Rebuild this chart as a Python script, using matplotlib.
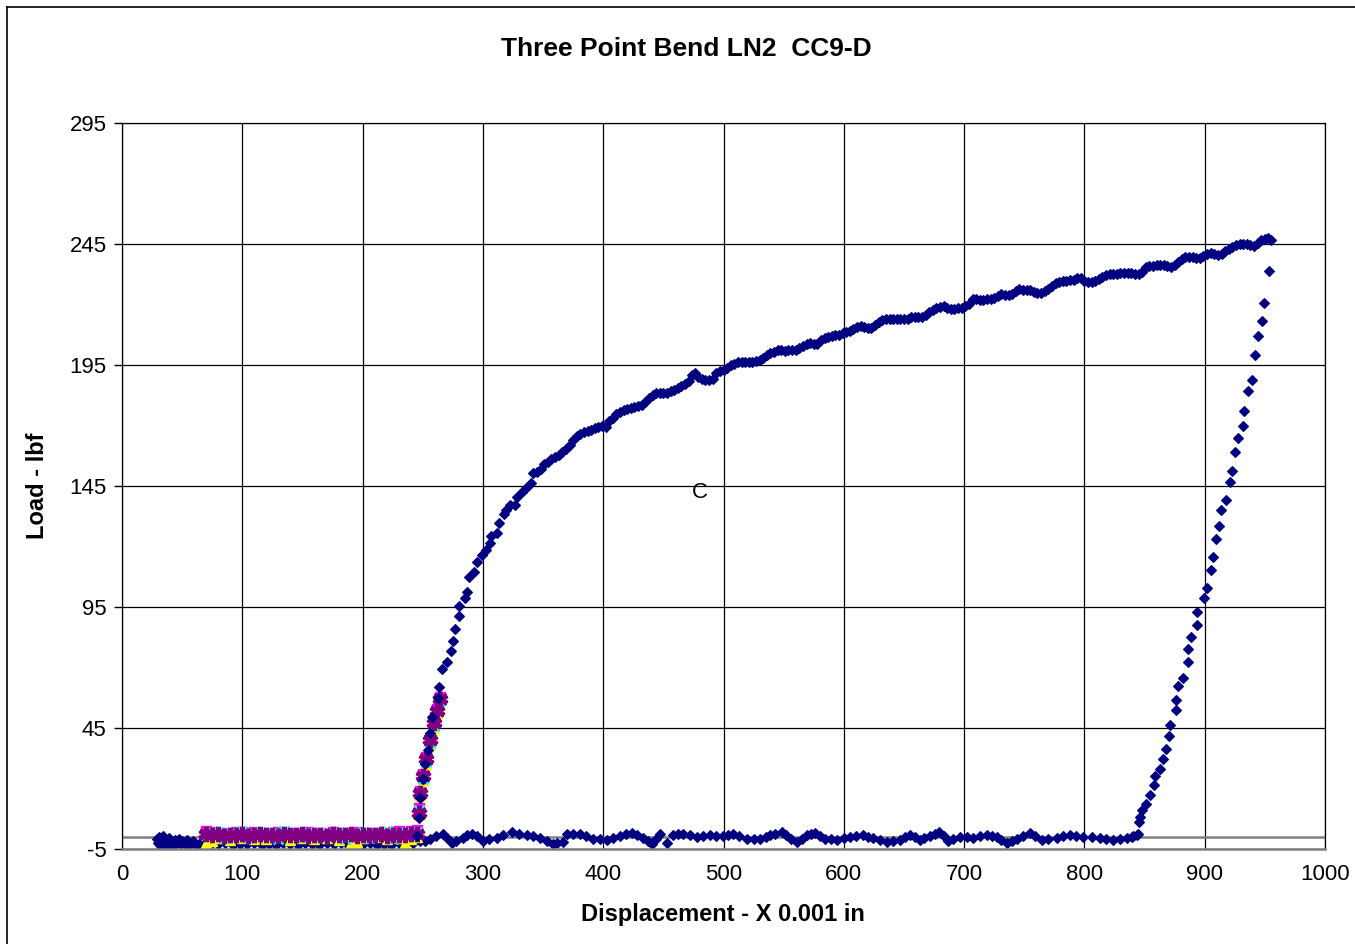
import matplotlib
matplotlib.use("Agg")
import matplotlib.pyplot as plt
from matplotlib.lines import Line2D

plt.rcParams['font.family'] = ['Liberation Sans', 'DejaVu Sans']
plt.rcParams['axes.unicode_minus'] = False

# ---- data ----
# main specimen curve (series 1): loading branch
load_x = [245, 246.5, 248, 250, 252, 254, 256, 257.4, 262.9, 263.8, 265.8, 270.4, 273.2, 274.9,
          276.8, 280.4, 280.4, 285.1, 286.5, 288.7, 292.6, 294.8, 299, 302.6, 305.9, 306.7, 311.5,
          313.6, 317.8, 319.2, 322.5, 326.7, 328.1, 332.3, 335.8, 340, 341.9,
          345, 348, 351, 354, 357, 360, 363, 366, 369, 372, 375, 378, 381, 384, 387, 390, 393, 396,
          399, 402, 405, 408, 411, 414, 417, 420, 423, 426, 429, 432, 435, 438, 441, 444, 447, 450,
          453, 456, 459, 462, 465, 468, 471, 474, 476, 479, 482, 485, 488, 491, 494, 497, 500, 503,
          506, 509, 512, 515, 518, 521, 524, 527, 530, 533, 536, 539, 542, 545, 548, 551, 554, 557,
          560, 563, 566, 569, 572, 575, 578, 581, 584, 587, 590, 593, 596, 599, 602, 605, 608, 611,
          614, 617, 620, 623, 626, 629, 632, 635, 638, 641, 644, 647, 650, 653, 656, 659, 662, 665,
          668, 671, 674, 677, 680, 683, 686, 689, 692, 695, 698, 701, 704, 707, 710, 713, 716, 719,
          722, 725, 728, 731, 734, 737, 740, 743, 746, 749, 752, 755, 758, 761, 764, 767, 770, 773,
          776, 779, 782, 785, 788, 791, 794, 797, 800, 803, 806, 809, 812, 815, 818, 821, 824, 827,
          830, 833, 836, 839, 842, 845, 848, 851, 854, 857, 860, 863, 866, 869, 872, 875, 878, 881,
          884, 887, 890, 893, 896, 899, 902, 905, 908, 911, 914, 917, 920, 923, 926, 929, 932, 935,
          938, 941, 944, 947, 950, 953, 955]
load_y = [0.5, 8, 16, 24, 30, 36, 42.8, 49.4, 57.3, 61.8, 69.5, 72.4, 76.8, 81,
          85.9, 91.3, 95.5, 98.6, 101.3, 107.5, 109.6, 113.7, 116.5, 118.6, 121.3, 124.3, 125.7,
          129.6, 133.4, 135.1, 137.1, 137.1, 140.3, 142.6, 144, 146.4, 150.2,
          150.8, 152.0, 153.9, 155.0, 156.0, 156.8, 157.9, 159.0, 160.3, 162.0, 164.0, 165.7, 166.6,
          167.2, 167.9, 168.3, 169.0, 169.4, 169.6, 169.2, 172.0, 173.2, 174.6, 175.7, 176.3, 176.8,
          177.2, 177.6, 178.0, 178.3, 179.8, 181.4, 182.8, 183.4, 183.5, 183.5, 183.6, 184.2, 184.8,
          185.5, 186.3, 187.2, 188.3, 190.8, 191.6, 190.2, 189.2, 188.8, 189.0, 189.4, 191.8, 192.6,
          193.0, 193.8, 194.8, 195.6, 196.2, 196.4, 196.4, 196.3, 196.4, 196.8, 197.1, 198.0, 199.0,
          199.8, 200.4, 201.0, 201.2, 200.9, 201.1, 201.3, 201.4, 201.9, 202.8, 203.6, 204.2, 203.6,
          203.5, 205.2, 206.1, 206.5, 206.9, 207.2, 207.6, 208.1, 208.6, 209.2, 209.8, 210.5, 211.1,
          210.7, 210.3, 210.4, 211.6, 212.6, 213.4, 214.2, 214.1, 213.9, 213.9, 213.9, 213.9, 214.1,
          214.7, 215.0, 215.0, 215.0, 215.8, 216.8, 217.6, 218.4, 219.0, 219.4, 218.6, 218.0, 218.2,
          218.4, 218.6, 219.2, 220.2, 222.4, 222.3, 222.0, 221.9, 222.1, 222.4, 222.8, 223.6, 224.3,
          224.1, 223.9, 224.5, 225.6, 226.2, 226.0, 225.8, 225.9, 225.2, 224.8, 224.7, 225.5, 226.4,
          227.8, 229.0, 229.4, 229.8, 229.9, 230.0, 230.1, 230.9, 230.8, 229.8, 229.4, 229.4, 229.6,
          230.5, 231.3, 232.0, 232.6, 232.7, 232.8, 232.9, 232.9, 232.9, 232.9, 232.8, 232.6, 233.6,
          235.4, 235.8, 236.1, 236.3, 236.3, 236.3, 235.8, 235.5, 236.4, 237.4, 238.6, 239.5, 239.7,
          239.8, 239.4, 239.4, 240.2, 240.7, 241.1, 241.0, 240.6, 240.8, 242.0, 242.9, 243.7, 244.5,
          245.2, 245.2, 245.0, 244.4, 244.0, 245.5, 246.6, 247.2, 247.4, 246.6]

# unloading branch
unload_x = [953.5, 949.6, 947.9, 944.3, 942.1, 939.6, 935.7, 932.9, 932.1, 927.4, 924.9, 923,
            921.3, 917.5, 913.8, 911.6, 909.4, 906.9, 905.5, 901.7, 899.2, 893.9, 893.9, 888.6,
            886.4, 886.4, 881.7, 878.1, 876.2, 876.2, 871.4, 870.6, 867.8, 865.6, 863.1, 858.4,
            857.9, 854.8, 851.5, 847.6, 846.5, 845.7, 844.3, 839.3]
unload_y = [233.7, 220.6, 213.3, 206.8, 199.2, 188.6, 184.4, 176, 169.7, 165, 159, 151.2,
            146.5, 139.3, 135.2, 128.5, 122.9, 115.7, 110.3, 102.9, 98.7, 93, 87.4, 82.5,
            77.8, 72.4, 65.5, 62.3, 56.4, 52.5, 46.3, 41.8, 36.5, 32, 28.1, 25.3,
            21.6, 17.2, 13.5, 11, 8.4, 6.2, 1.2, 0]

# return path at zero load
base_x = [29, 30, 31, 32, 33, 34, 35, 36, 37, 38, 39, 40, 41, 42, 43, 44, 46, 47, 49, 50, 52,
          54, 55, 57, 59, 61, 63, 66, 68, 71, 75, 80, 86, 92, 98, 104, 110, 116, 122, 128, 134,
          140, 146, 152, 158, 164, 170, 176, 182, 188, 194, 200, 206, 212, 218, 224, 230, 236,
          242, 248, 252, 256, 261, 267, 270, 274, 278, 283.7, 287, 290.7, 295, 300.3, 305,
          311.4, 317, 323.9, 330, 336.4, 342, 347.5, 353, 358.5, 362, 366.8, 369.6, 375, 380.7,
          386, 391.8, 397, 402.9, 408, 414, 419, 423.7, 428, 433.4, 437, 440.3, 444, 447.2,
          453.3, 458.3, 462, 466.6, 472, 477.7, 483, 488.8, 494, 499.8, 504, 508.2, 513, 519.3,
          525, 530.3, 535, 538.7, 543, 548.4, 552, 556, 560.8, 565, 569.2, 573, 576.1, 580,
          584.4, 589, 594.1, 600, 605.2, 610, 616.2, 620, 624.5, 630, 635.6, 641, 646.7, 651,
          655, 659, 663.3, 667, 671.7, 676, 679.4, 683, 686.9, 691, 696.6, 702, 707.7, 713,
          718.8, 723, 727.1, 731, 735.4, 740, 743.7, 749, 754.8, 759, 764.5, 770, 777, 782,
          788, 793, 799.1, 806, 813, 818, 824, 830, 835.1, 840, 843.4]
base_y = [-1.0, -2.5, -0.2, -3.2, -1.5, 0.3, -2.8, -1.0, -3.5, -2.0, -0.5, -3.0, -1.5, -2.5,
          -3.8, -1.2, -2.2, -0.8, -3.0, -1.8, -2.5, -1.2, -3.8, -2.5, -1.5, -2.8, -3.2, -2.2,
          -3.0, -3.4, -2.4, -3.0, -2.6, -3.4, -2.8, -3.0, -2.4, -3.2, -2.8, -3.4, -2.6, -3.0,
          -3.3, -2.5, -3.0, -3.4, -2.7, -3.1, -2.5, -3.3, -2.9, -3.1, -2.6, -3.3, -2.8, -3.2,
          -2.6, -3.0, -2.7, -1.5, -1.8, -0.8, 0.2, 1.0, -0.5, -2.5, -1.5, -0.4, 0.6, 1.4, 0.2,
          -1.8, -1.0, -0.4, 0.8, 1.9, 1.2, 0.6, 0.2, -0.4, -1.8, -2.8, -2.6, -2.2, 1.0, 1.2,
          1.0, 0.2, -0.8, -1.0, -1.1, -0.4, 0.3, 1.0, 1.7, 0.8, -0.4, -1.6, -2.8, -0.8, 1.0,
          -2.5, 0.6, 1.0, 1.4, 0.6, 0.0, 0.3, 0.6, 0.4, 0.3, 0.6, 1.0, 0.2, -0.8, -0.8, -0.8,
          0.0, 0.6, 1.2, 1.9, 0.6, -1.0, -2.2, -0.8, 0.6, 1.2, 1.7, 0.4, -0.8, -1.0, -1.1,
          -0.5, 0.0, 0.3, 0.6, 0.1, -0.3, -1.2, -2.1, -1.6, -1.1, -0.2, 0.7, -0.2, -1.1, -0.4,
          0.3, 1.2, 2.1, 0.2, -1.7, -0.8, 0.0, -0.2, -0.3, 0.2, 0.7, 0.3, 0.0, -1.2, -2.5,
          -1.6, -0.7, 0.5, 1.7, 0.3, -1.1, -0.7, -0.3, 0.2, 0.7, 0.3, 0.0, -0.2, -0.3, -0.7,
          -1.1, -0.7, -0.3, 0.2, 0.7]

# series 2-5: short runs on the left
run_x = [70, 75, 80, 85, 90, 95, 100, 105, 110, 115, 120, 125, 130, 135, 140, 145, 150, 155,
         160, 165, 170, 175, 180, 185, 190, 195, 200, 205, 210, 215, 220, 225, 230, 235, 240,
         245, 246.5, 248, 250.5, 253, 256, 259, 261.5, 264]
run2_y = [2.6, 2.0, 1.2, 1.8, 1.4, 2.2, 1.0, 1.6, 1.9, 1.3, 1.7, 1.1, 2.0, 1.5, 1.2, 1.8, 1.4,
          2.1, 1.1, 1.6, 1.3, 1.9, 1.2, 1.7, 1.5, 2.0, 1.1, 1.6, 1.4, 1.8, 1.2, 2.0, 2.3, 1.6,
          2.5, 2.8, 12, 19, 26, 33, 41, 48, 53, 58]
run3_y = [-2.6, -1.8, -0.6, 0.4, -1.2, 0.8, -0.4, 1.0, -0.8, 0.2, -1.0, 0.6, -0.2, 0.9, -1.1,
          0.3, -0.5, 0.7, -0.9, 0.1, -0.3, 0.8, -1.4, 0.2, -2.4, -2.2, -0.6, 0.5, -0.2, 0.6,
          -1.0, 0.3, -0.4, -2.5, -0.8, -0.2, 9, 17, 23, 30, 38, 45, 51, 55]
run4_y = [0.8, 1.9, 2.2, -0.6, 1.5, 0.4, 2.3, -0.4, 1.2, 2.0, 0.2, 1.6, -0.8, 2.4, 0.6, 1.3,
          -0.6, 2.1, 0.9, -0.2, 1.7, 0.3, 2.2, -0.9, 1.0, 0.4, 2.0, -0.5, 1.4, 0.7, 2.3, -0.7,
          1.1, 1.9, 0.5, 2.1, 11, 18, 24, 31, 39, 46, 52, 56]
run5_y = [1.2, 0.6, 1.0, 0.4, 0.9, 0.7, 1.1, 0.5, 0.8, 1.0, 0.6, 0.9, 0.4, 1.0, 0.7, 0.6,
          1.1, 0.5, 0.8, 0.9, 0.4, 1.0, 0.7, 0.6, 1.2, 0.5, 0.8, 0.9, 0.6, 1.0, 0.5, 0.9,
          0.7, 0.8, 1.0, 1.4, 10, 18, 25, 32, 40, 47, 52, 57]

y_ticks = [-5, 45, 95, 145, 195, 245, 295]
x_ticks = [0, 100, 200, 300, 400, 500, 600, 700, 800, 900, 1000]

# ---- figure ----
fig = plt.figure(figsize=(13.55, 9.44), dpi=100)
ax = fig.add_axes([122 / 1355, 1 - 849 / 944, (1325 - 122) / 1355, (849 - 123) / 944])

navy = '#000080'
ax.plot(base_x, base_y, linestyle='none', marker='D', ms=5, color=navy, mec=navy, mew=0.8)
ax.plot(run_x, run2_y, linestyle='none', marker='s', ms=7, color='#FF00FF', mec='#FF00FF')
ax.plot(run_x, run3_y, linestyle='none', marker='^', ms=7, color='#FFFF00', mec='#FFFF00')
ax.plot(run_x, run4_y, linestyle='none', marker='x', ms=7, color='#00FFFF', mew=1.8)
ax.plot(run_x, run5_y, linestyle='none', marker=(6, 2, 0), ms=11, color='#800080', mew=3.6)
ax.plot(load_x, load_y, linestyle='none', marker='D', ms=5, color=navy, mec=navy, mew=0.8)
ax.plot(unload_x, unload_y, linestyle='none', marker='D', ms=5, color=navy, mec=navy, mew=0.8)

ax.set_xlim(0, 1000)
ax.set_ylim(-5, 295)
ax.set_xticks(x_ticks)
ax.set_yticks(y_ticks)
ax.grid(True, color='black', linewidth=0.9)
ax.set_axisbelow(True)
ax.axhline(0, color='#808080', linewidth=1.8, zorder=1.5)

for s in ['top', 'right', 'left']:
    ax.spines[s].set_color('black')
    ax.spines[s].set_linewidth(0.9)
ax.spines['bottom'].set_color('#808080')
ax.spines['bottom'].set_linewidth(1.8)

ax.tick_params(axis='y', direction='out', length=6, width=1, pad=5, labelsize=16)
ax.tick_params(axis='x', length=0, pad=11, labelsize=16)

ax.text(480, 142.5, 'C', fontsize=16, ha='center', va='center')

fig.text(686 / 1355, 1 - 49 / 944, 'Three Point Bend LN2  CC9-D', fontsize=19, fontweight='bold',
         ha='center', va='center')
fig.text(723 / 1355, 1 - 915 / 944, 'Displacement - X 0.001 in', fontsize=17, fontweight='bold',
         ha='center', va='center')
fig.text(38 / 1355, 1 - 486 / 944, 'Load - lbf', fontsize=17, fontweight='bold',
         ha='center', va='center', rotation=90)

# outer chart frame (left and top edges visible in the picture)
fig.add_artist(Line2D([7 / 1355, 7 / 1355], [0, 1 - 7 / 944], color='black', linewidth=1.2))
fig.add_artist(Line2D([7 / 1355, 1], [1 - 7 / 944, 1 - 7 / 944], color='black', linewidth=1.2))

fig.savefig('out.png', dpi=100)
